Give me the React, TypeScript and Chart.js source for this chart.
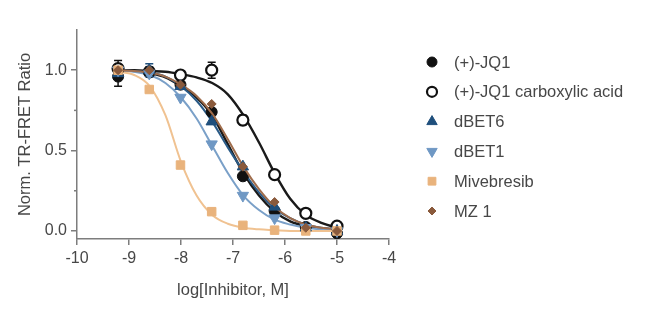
import React, { useEffect, useRef } from 'react';
import { Chart, registerables } from 'chart.js';
import { drawPoint } from 'chart.js/helpers';

Chart.register(...registerables);

// ---- data ----
const doseX = [-9.21, -8.61, -8.01, -7.41, -6.81, -6.2, -5.6, -5.0];
const jq1 = [0.96, 0.99, 0.91, 0.74, 0.34, 0.125, 0.025, -0.015];
const jq1Err = [0.06, 0.03, 0, 0, 0, 0, 0, 0];
const acid = [1.01, 0.99, 0.97, 1.0, 0.69, 0.35, 0.11, 0.03];
const acidErr = [0.05, 0, 0, 0.05, 0.03, 0, 0, 0];
const dbet6 = [0.98, 1.0, 0.9, 0.68, 0.4, 0.15, 0.02, 0.0];
const dbet6Err = [0, 0.04, 0, 0, 0, 0, 0, 0];
const dbet1 = [1.0, 0.98, 0.83, 0.54, 0.22, 0.08, 0.02, 0.0];
const mive = [1.0, 0.88, 0.41, 0.12, 0.035, 0.005, 0.0, 0.0];
const mz1 = [1.0, 1.0, 0.91, 0.79, 0.4, 0.18, 0.02, 0.0];

// fitted curves
const fitX = [-9.2, -8.9, -8.6, -8.3, -8.0, -7.7, -7.4, -7.1, -6.8, -6.5, -6.2, -5.9, -5.6, -5.3, -5.0];
const jq1Fit = [1.0, 0.995, 0.98, 0.955, 0.9, 0.83, 0.72, 0.54, 0.36, 0.22, 0.12, 0.06, 0.03, 0.015, 0.01];
const acidFit = [1.0, 1.0, 0.995, 0.99, 0.975, 0.955, 0.92, 0.85, 0.72, 0.55, 0.36, 0.2, 0.1, 0.05, 0.02];
const dbet6Fit = [1.0, 0.995, 0.985, 0.96, 0.9, 0.81, 0.68, 0.52, 0.37, 0.24, 0.14, 0.08, 0.04, 0.02, 0.01];
const dbet1Fit = [1.0, 0.99, 0.97, 0.92, 0.83, 0.7, 0.53, 0.36, 0.22, 0.13, 0.07, 0.04, 0.02, 0.01, 0.005];
const miveFit = [0.99, 0.97, 0.9, 0.72, 0.43, 0.22, 0.1, 0.045, 0.02, 0.01, 0.005, 0.0, 0.0, 0.0, 0.0];
const mz1Fit = [1.0, 0.995, 0.985, 0.96, 0.91, 0.84, 0.73, 0.57, 0.4, 0.26, 0.15, 0.08, 0.04, 0.02, 0.01];

const seriesNames = ['(+)-JQ1', '(+)-JQ1 carboxylic acid', 'dBET6', 'dBET1', 'Mivebresib', 'MZ 1'];
const xTicks = [-10, -9, -8, -7, -6, -5, -4];
const yTicks = [0, 0.5, 1.0];
const yMinorTicks = [0.25, 0.75];

const FONT = "'Liberation Sans', Arial, Helvetica, sans-serif";
const TEXT = '#474747';
const AXIS = '#7d7d7d';

type Style = { color: string; fill: string; line: string; pointStyle: string; rotation: number; radius: number; lw: number };
const styles: Style[] = [
  { color: '#111111', fill: '#111111', line: '#1a1a1a', pointStyle: 'circle', rotation: 0, radius: 5.5, lw: 1 },
  { color: '#111111', fill: '#ffffff', line: '#1a1a1a', pointStyle: 'circle', rotation: 0, radius: 5.5, lw: 2.2 },
  { color: '#1f4f7c', fill: '#1f4f7c', line: '#2a5a86', pointStyle: 'triangle', rotation: 0, radius: 6.5, lw: 1 },
  { color: '#6f98c4', fill: '#6f98c4', line: '#7aa0c8', pointStyle: 'triangle', rotation: 180, radius: 6.5, lw: 1 },
  { color: '#e9b37c', fill: '#e9b37c', line: '#f0c291', pointStyle: 'rect', rotation: 0, radius: 6, lw: 1 },
  { color: '#8a5a3c', fill: '#8a5a3c', line: '#a06d4c', pointStyle: 'rectRot', rotation: 0, radius: 4.5, lw: 1 },
];

const pointSets = [jq1, acid, dbet6, dbet1, mive, mz1];
const errSets = [jq1Err, acidErr, dbet6Err, null, null, null];
const fitSets = [jq1Fit, acidFit, dbet6Fit, dbet1Fit, miveFit, mz1Fit];

const errorBarPlugin = {
  id: 'errorBars',
  beforeDatasetDraw(chart: any, args: any) {
    const ds = chart.data.datasets[args.index];
    if (!ds.errors) return;
    const ctx = chart.ctx;
    const xs = chart.scales.x;
    const ys = chart.scales.y;
    ctx.save();
    ctx.strokeStyle = ds.borderColor;
    ctx.lineWidth = 1.5;
    ds.data.forEach((p: any, i: number) => {
      const e = ds.errors[i];
      if (!e) return;
      const px = xs.getPixelForValue(p.x);
      const top = ys.getPixelForValue(p.y + e);
      const bot = ys.getPixelForValue(p.y - e);
      ctx.beginPath();
      ctx.moveTo(px, top);
      ctx.lineTo(px, bot);
      ctx.moveTo(px - 4, top);
      ctx.lineTo(px + 4, top);
      ctx.moveTo(px - 4, bot);
      ctx.lineTo(px + 4, bot);
      ctx.stroke();
    });
    ctx.restore();
  },
};

const minorTickPlugin = {
  id: 'minorTicks',
  afterDraw(chart: any) {
    const ctx = chart.ctx;
    const ys = chart.scales.y;
    const left = chart.chartArea.left;
    ctx.save();
    ctx.strokeStyle = AXIS;
    ctx.lineWidth = 1.5;
    yMinorTicks.forEach((v) => {
      const py = ys.getPixelForValue(v);
      ctx.beginPath();
      ctx.moveTo(left - 3, py);
      ctx.lineTo(left, py);
      ctx.stroke();
    });
    ctx.restore();
  },
};

const legendPlugin = {
  id: 'sideLegend',
  afterDraw(chart: any) {
    const ctx = chart.ctx;
    const x0 = 432;
    const y0 = 62;
    const step = 29.8;
    ctx.save();
    ctx.font = `16.5px ${FONT}`;
    ctx.textBaseline = 'middle';
    ctx.textAlign = 'left';
    seriesNames.forEach((name, i) => {
      const s = styles[i];
      const y = y0 + i * step;
      ctx.fillStyle = s.fill;
      ctx.strokeStyle = s.color;
      ctx.lineWidth = s.lw;
      drawPoint(ctx, { pointStyle: s.pointStyle as any, rotation: s.rotation, radius: s.radius - 0.5, borderWidth: s.lw }, x0, y);
      ctx.fillStyle = TEXT;
      ctx.fillText(name, 454, y + 1);
    });
    ctx.restore();
  },
};

export default function App() {
  const ref = useRef<HTMLCanvasElement | null>(null);

  useEffect(() => {
    if (!ref.current) return;
    const curveSets = fitSets.map((arr, i) => ({
      type: 'scatter' as const,
      label: seriesNames[i] + ' fit',
      data: fitX.map((x, k) => ({ x, y: arr[k] })),
      showLine: true,
      borderColor: styles[i].line,
      borderWidth: i < 2 ? 2.4 : 2,
      pointRadius: 0,
      cubicInterpolationMode: 'monotone' as const,
      order: 10 - i,
    }));
    const pointDataSets = pointSets.map((arr, i) => ({
      type: 'scatter' as const,
      label: seriesNames[i],
      data: doseX.map((x, k) => ({ x, y: arr[k] })),
      showLine: false,
      borderColor: styles[i].color,
      backgroundColor: styles[i].fill,
      pointStyle: styles[i].pointStyle,
      rotation: styles[i].rotation,
      pointRadius: styles[i].radius,
      pointBorderWidth: styles[i].lw,
      errors: errSets[i],
      order: 6 - i,
    }));

    const chart = new Chart(ref.current, {
      type: 'scatter',
      data: { datasets: [...curveSets, ...pointDataSets] as any },
      options: {
        responsive: false,
        animation: false,
        devicePixelRatio: 1,
        layout: { padding: { top: 30, right: 261, left: 0, bottom: 0 } },
        plugins: { legend: { display: false }, tooltip: { enabled: false } },
        scales: {
          x: {
            type: 'linear',
            min: -10,
            max: -4,
            afterFit: (s: any) => { s.height = 71; },
            afterBuildTicks: (s: any) => { s.ticks = xTicks.map((v) => ({ value: v })); },
            grid: { drawOnChartArea: false, drawTicks: true, tickLength: 6, color: AXIS, lineWidth: 1.5 },
            border: { display: true, color: AXIS, width: 1.5 },
            ticks: { color: TEXT, font: { size: 16, family: FONT }, padding: 4, callback: (v: any) => String(v) },
            title: { display: true, text: 'log[Inhibitor, M]', color: TEXT, font: { size: 16.5, family: FONT }, padding: { top: 0, bottom: 10 } },
          },
          y: {
            type: 'linear',
            min: -0.05,
            max: 1.25,
            afterFit: (s: any) => { s.width = 77; },
            afterBuildTicks: (s: any) => { s.ticks = yTicks.map((v) => ({ value: v })); },
            grid: { drawOnChartArea: false, drawTicks: true, tickLength: 6, color: AXIS, lineWidth: 1.5 },
            border: { display: true, color: AXIS, width: 1.5 },
            ticks: { color: TEXT, font: { size: 16, family: FONT }, padding: 4, callback: (v: any) => Number(v).toFixed(1) },
            title: { display: true, text: 'Norm. TR-FRET Ratio', color: TEXT, font: { size: 16.5, family: FONT }, padding: { top: 16, bottom: 0 } },
          },
        },
      },
      plugins: [errorBarPlugin, minorTickPlugin, legendPlugin],
    } as any);
    return () => chart.destroy();
  }, []);

  return (
    <div style={{ position: 'fixed', left: 0, top: 0, width: 650, height: 310, background: '#fff' }}>
      <canvas ref={ref} width={650} height={310} style={{ display: 'block' }} />
    </div>
  );
}
